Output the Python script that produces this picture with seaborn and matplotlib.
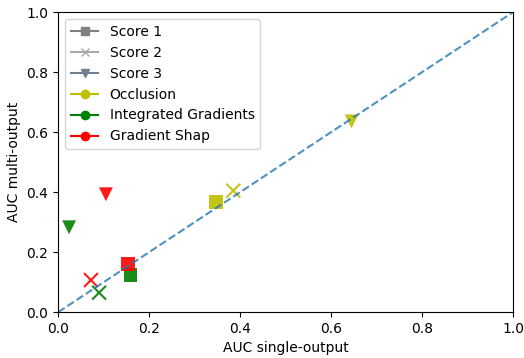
import matplotlib
matplotlib.use("Agg")
import matplotlib.pyplot as plt
from matplotlib.lines import Line2D
import pandas as pd
import seaborn as sns

methods = ['Occlusion', 'Integrated Gradients', 'Gradient Shap']
scores = ['Score 1', 'Score 2', 'Score 3']

# AUC values per score, ordered like methods
single_s1 = [0.347, 0.159, 0.153]
multi_s1 = [0.366, 0.123, 0.160]
single_s2 = [0.385, 0.090, 0.072]
multi_s2 = [0.405, 0.065, 0.107]
single_s3 = [0.645, 0.024, 0.105]
multi_s3 = [0.636, 0.283, 0.393]

rows = []
for score, xs, ys in zip(scores, [single_s1, single_s2, single_s3], [multi_s1, multi_s2, multi_s3]):
    for m, x, y in zip(methods, xs, ys):
        rows.append({'method': m, 'score': score, 'single': x, 'multi': y})
df = pd.DataFrame(rows)

method_colors = {'Occlusion': 'y', 'Integrated Gradients': 'g', 'Gradient Shap': 'r'}
score_markers = {'Score 1': 's', 'Score 2': 'x', 'Score 3': 'v'}

fig = plt.figure(figsize=(5.24, 3.58), dpi=100)
ax = fig.add_axes([0.111, 0.128, 0.868, 0.838])

ax.plot([0, 1], [0, 1], '--', color='#1f77b4', alpha=0.8, lw=1.5)

for score in scores:
    sub = df[df['score'] == score]
    sns.scatterplot(data=sub, x='single', y='multi', hue='method', palette=method_colors,
                    marker=score_markers[score], s=100, linewidth=1.5 if score == 'Score 2' else 0,
                    alpha=0.9, legend=False, ax=ax)

handles = [
    Line2D([], [], color='gray', marker='s', label='Score 1'),
    Line2D([], [], color='darkgray', marker='x', label='Score 2'),
    Line2D([], [], color='slategray', marker='v', label='Score 3'),
]
for m in methods:
    handles.append(Line2D([], [], color=method_colors[m], marker='o', label=m))
ax.legend(handles=handles, loc='upper left')

ax.set_xlim(0, 1)
ax.set_ylim(0, 1)
ax.set_xlabel('AUC single-output')
ax.set_ylabel('AUC multi-output')
fig.savefig('out.png', dpi=100)
